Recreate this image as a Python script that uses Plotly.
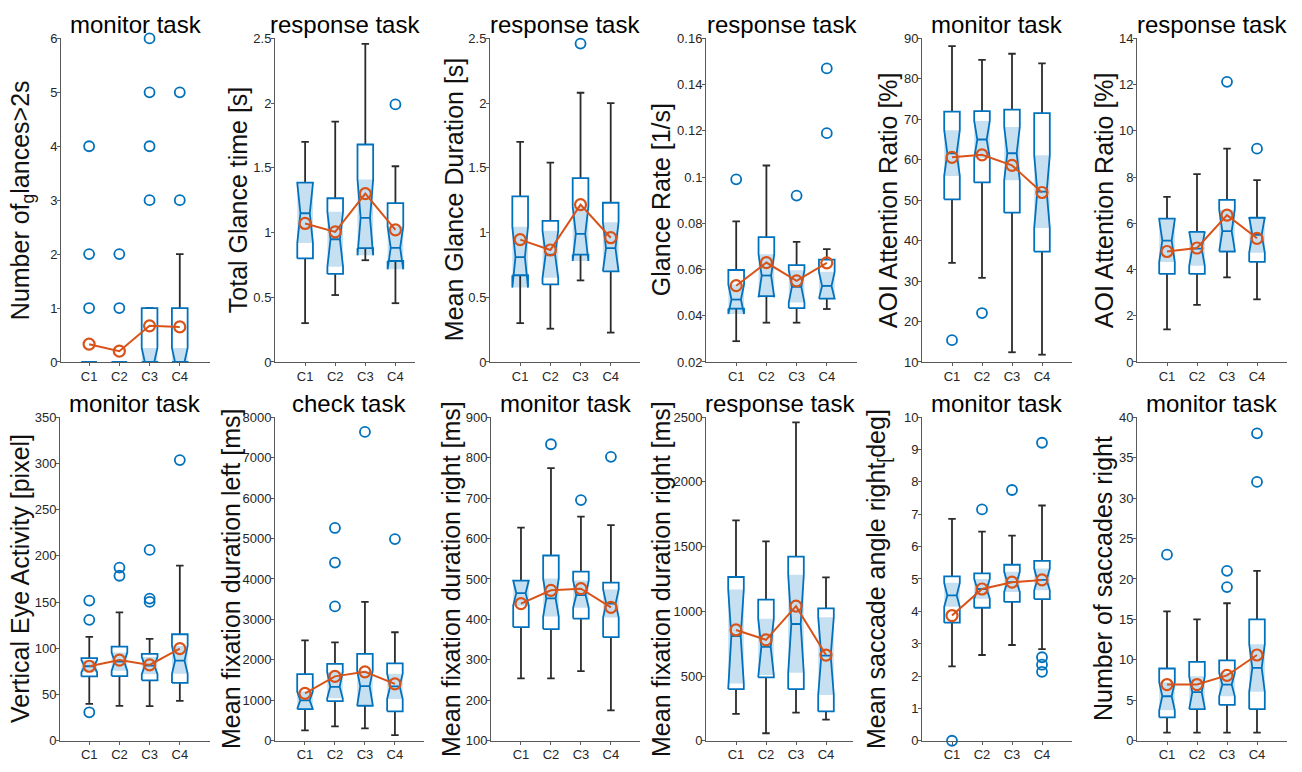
import plotly.graph_objects as go

# ---------------- data ----------------
categories = ["C1", "C2", "C3", "C4"]

titles = ["monitor task", "response task", "response task", "response task",
          "monitor task", "response task",
          "monitor task", "check task", "monitor task", "response task",
          "monitor task", "monitor task"]

ylabels = ["Number of<sub>g</sub>lances>2s", "Total Glance time [s]",
           "Mean Glance Duration [s]", "Glance Rate [1/s]",
           "AOI Attention Ratio [%]", "AOI Attention Ratio [%]",
           "Vertical Eye Activity [pixel]", "Mean fixation duration left [ms]",
           "Mean fixation duration right [ms]", "Mean fixation duration right [ms]",
           "Mean saccade angle right<sub>[</sub>deg]", "Number of saccades right"]

yranges = [[0, 6], [0, 2.5], [0, 2.5], [0.02, 0.16], [10, 90], [0, 14],
           [0, 350], [0, 8000], [100, 900], [0, 2500], [0, 10], [0, 40]]

yticks = [[0, 1, 2, 3, 4, 5, 6],
          [0, 0.5, 1, 1.5, 2, 2.5],
          [0, 0.5, 1, 1.5, 2, 2.5],
          [0.02, 0.04, 0.06, 0.08, 0.1, 0.12, 0.14, 0.16],
          [10, 20, 30, 40, 50, 60, 70, 80, 90],
          [0, 2, 4, 6, 8, 10, 12, 14],
          [0, 50, 100, 150, 200, 250, 300, 350],
          [0, 1000, 2000, 3000, 4000, 5000, 6000, 7000, 8000],
          [100, 200, 300, 400, 500, 600, 700, 800, 900],
          [0, 500, 1000, 1500, 2000, 2500],
          [0, 1, 2, 3, 4, 5, 6, 7, 8, 9, 10],
          [0, 5, 10, 15, 20, 25, 30, 35, 40]]

box_q1 = [[0, 0, 0, 0], [0.80, 0.68, 0.88, 0.78], [0.67, 0.60, 0.83, 0.70],
          [0.0431, 0.0485, 0.0433, 0.0474], [50.2, 54.4, 46.9, 37.3], [3.81, 3.81, 4.78, 4.33],
          [69.6, 70.0, 65.4, 62.6], [784, 978, 865, 727], [381, 376, 402, 356],
          [399, 490, 399, 227], [3.65, 4.11, 4.29, 4.38], [2.9, 3.92, 4.44, 3.92]]

box_median = [[0, 0, 0, 0], [1.149, 0.948, 1.114, 0.882], [0.81, 0.83, 0.99, 0.88],
              [0.047, 0.0574, 0.0525, 0.0529], [61.6, 65.0, 61.6, 52.1], [5.25, 4.90, 5.66, 5.50],
              [80.6, 85.5, 81.3, 86.6], [1000, 1333, 1349, 1345], [465, 452, 460, 439],
              [808, 725, 902, 657], [4.49, 4.69, 4.90, 4.97], [5.5, 6.0, 6.95, 9.0]]

box_q3 = [[0, 0, 1, 1], [1.386, 1.265, 1.68, 1.227], [1.28, 1.09, 1.42, 1.23],
          [0.0598, 0.074, 0.0619, 0.0643], [71.9, 72.0, 72.4, 71.5], [6.20, 5.63, 7.01, 6.24],
          [89.4, 101.8, 94.0, 115.2], [1648, 1899, 2150, 1915], [496, 558, 518, 491],
          [1265, 1091, 1422, 1023], [5.08, 5.17, 5.44, 5.56], [8.93, 9.74, 9.94, 15.0]]

notch_lo = [[0, 0, -0.26, -0.26], [0.92, 0.736, 0.824, 0.716], [0.575, 0.65, 0.78, 0.70],
            [0.0407, 0.048, 0.0457, 0.0474], [56.0, 60.4, 54.9, 43.1], [4.33, 4.16, 4.83, 4.73],
            [74.0, 75.6, 72.0, 72.5], [785, 1050, 889, 1034], [434, 407, 429, 405],
            [442, 508, 525, 354], [4.14, 4.39, 4.60, 4.65], [3.76, 4.04, 5.5, 6.06]]

notch_hi = [[0, 0, 0.26, 0.26], [1.38, 1.16, 1.41, 1.048], [1.045, 1.013, 1.20, 1.08],
            [0.0535, 0.0666, 0.0597, 0.059], [67.3, 69.6, 68.1, 61.1], [6.17, 5.64, 6.59, 6.27],
            [87.2, 95.4, 90.6, 102.5], [1215, 1697, 1730, 1657], [496, 501, 496, 474],
            [1169, 942, 1283, 955], [4.88, 5.00, 5.22, 5.32], [7.24, 7.96, 8.4, 11.94]]

whisker_lo = [[0, 0, 0, 0], [0.30, 0.517, 0.786, 0.454], [0.30, 0.257, 0.63, 0.227],
              [0.029, 0.037, 0.037, 0.0429], [34.5, 30.8, 12.4, 11.8], [1.41, 2.47, 3.66, 2.71],
              [40.0, 37.8, 37.5, 43.1], [259, 356, 307, 137], [254, 254, 272, 175],
              [207, 58, 217, 164], [2.30, 2.65, 2.96, 2.83], [1, 1, 1, 1]]

whisker_hi = [[0, 0, 1, 2], [1.70, 1.857, 2.457, 1.512], [1.70, 1.54, 2.08, 2.0],
              [0.0808, 0.105, 0.072, 0.0688], [88.1, 84.7, 86.2, 83.8], [7.14, 8.13, 9.23, 7.87],
              [112.4, 138.9, 110.3, 189.5], [2481, 2432, 3434, 2683], [627, 774, 654, 633],
              [1702, 1540, 2460, 1263], [6.86, 6.46, 6.34, 7.27], [16, 15, 17, 21]]

means = [[0.33, 0.20, 0.67, 0.65], [1.07, 1.005, 1.30, 1.02], [0.945, 0.865, 1.215, 0.96],
         [0.053, 0.063, 0.0551, 0.0629], [60.6, 61.2, 58.6, 51.9], [4.78, 4.93, 6.35, 5.35],
         [80.6, 87.3, 82.0, 99.7], [1172, 1592, 1705, 1406], [439, 472, 476, 430],
         [856, 780, 1040, 662], [3.87, 4.69, 4.90, 4.97], [6.95, 6.95, 8.08, 10.6]]

outliers = [[[1, 2, 4], [1, 2], [3, 4, 5, 6], [3, 5]],
            [[], [], [], [1.99]],
            [[], [], [2.46], []],
            [[0.099], [], [0.092], [0.119, 0.147]],
            [[15.4], [22.1], [], []],
            [[], [], [12.12], [9.23]],
            [[30.8, 130.8, 151.6], [178.5, 187.3], [150.2, 153.8, 206.4], [303.6]],
            [[], [3321, 4404, 5261], [7636], [4986]],
            [[], [833], [695], [802]],
            [[], [], [], []],
            [[0], [7.15], [7.75], [2.13, 2.35, 2.58, 9.21]],
            [[23], [], [19, 21], [32, 38]]]

# ---------------- layout geometry (pixels) ----------------
W, H = 1302, 772
axis_px = [(61, 210), (275, 415), (490, 640), (706, 857), (922, 1072), (1137, 1287),
           (60, 210), (275, 424), (491, 640), (706, 853), (922, 1072), (1137, 1287)]
xranges = [[0.07, 5.0], [0, 4.65], [0, 4.97], [0, 5.0], [0, 5], [0, 5],
           [0.03, 5.0], [0, 4.97], [0, 4.97], [0, 4.9], [0, 5], [0, 5]]
row_px = [(32, 362), (418.3, 748.3)]
ylabel_x = [22, 238, 454, 661, 888, 1104, 20, 231, 451, 661, 878, 1103]

BLUE = "#0072BD"
ORANGE = "#D95319"
FILL = "rgba(0,114,189,0.22)"
WHISK = "#2b2b2b"
AX = "#5a5a5a"
TXT = "#262626"
FONT = "Liberation Sans, Arial, sans-serif"

HW = 0.26      # box half width
NW = 0.6       # notch waist relative to half width
CAP = 0.125    # whisker cap half width

fig = go.Figure()
annotations = []

for p in range(12):
    ax = "" if p == 0 else str(p + 1)
    xref, yref = "x" + ax, "y" + ax
    xs_fill, ys_fill = [], []
    xs_w, ys_w = [], []
    xs_b, ys_b = [], []
    xs_o, ys_o = [], []
    for i in range(4):
        x = i + 1
        q1, md, q3 = box_q1[p][i], box_median[p][i], box_q3[p][i]
        nlo, nhi = notch_lo[p][i], notch_hi[p][i]
        wl, wh = whisker_lo[p][i], whisker_hi[p][i]
        # shaded notch band
        xs_fill += [x - HW, x + HW, x + HW, x - HW, x - HW, None]
        ys_fill += [nlo, nlo, nhi, nhi, nlo, None]
        # whiskers with caps
        xs_w += [x, x, None, x - CAP, x + CAP, None, x, x, None, x - CAP, x + CAP, None]
        ys_w += [q3, wh, None, wh, wh, None, q1, wl, None, wl, wl, None]
        # notched box outline and median
        xs_b += [x - HW, x + HW, x + HW, x + HW * NW, x + HW, x + HW,
                 x - HW, x - HW, x - HW * NW, x - HW, x - HW, None,
                 x - HW * NW, x + HW * NW, None]
        ys_b += [q1, q1, nlo, md, nhi, q3, q3, nhi, md, nlo, q1, None, md, md, None]
        for v in outliers[p][i]:
            xs_o.append(x)
            ys_o.append(v)

    fig.add_trace(go.Scatter(x=xs_fill, y=ys_fill, mode="none", fill="toself",
                             fillcolor=FILL, xaxis=xref, yaxis=yref,
                             hoverinfo="skip", showlegend=False))
    fig.add_trace(go.Scatter(x=xs_w, y=ys_w, mode="lines",
                             line=dict(color=WHISK, width=1.8),
                             xaxis=xref, yaxis=yref, hoverinfo="skip", showlegend=False))
    fig.add_trace(go.Scatter(x=xs_b, y=ys_b, mode="lines",
                             line=dict(color=BLUE, width=1.8),
                             xaxis=xref, yaxis=yref, hoverinfo="skip", showlegend=False))
    fig.add_trace(go.Scatter(x=xs_o, y=ys_o, mode="markers", cliponaxis=False,
                             marker=dict(symbol="circle-open", size=10, color=BLUE,
                                         line=dict(width=1.8, color=BLUE)),
                             xaxis=xref, yaxis=yref, showlegend=False))
    fig.add_trace(go.Scatter(x=[1, 2, 3, 4], y=means[p], mode="lines+markers",
                             cliponaxis=False,
                             line=dict(color=ORANGE, width=2),
                             marker=dict(symbol="circle-open", size=11, color=ORANGE,
                                         line=dict(width=2.2, color=ORANGE)),
                             xaxis=xref, yaxis=yref, showlegend=False))

    row = 0 if p < 6 else 1
    l, r = axis_px[p]
    t, b = row_px[row]
    fig.layout["xaxis" + ax] = dict(
        domain=[l / W, r / W], range=xranges[p], anchor=yref,
        tickmode="array", tickvals=[1, 2, 3, 4], ticktext=categories,
        showline=True, linecolor=AX, linewidth=1, ticks="outside", ticklen=3,
        tickcolor=AX, showgrid=False, zeroline=False, ticklabelstandoff=-1,
        tickfont=dict(family=FONT, size=13, color=TXT))
    fig.layout["yaxis" + ax] = dict(
        domain=[1 - b / H, 1 - t / H], range=yranges[p], anchor=xref,
        tickmode="array", tickvals=yticks[p], ticktext=[f"{v:g}" for v in yticks[p]],
        showline=True, linecolor=AX, linewidth=1, ticks="outside", ticklen=3,
        tickcolor=AX, showgrid=False, zeroline=False, ticklabelstandoff=-3,
        tickfont=dict(family=FONT, size=13, color=TXT))

    annotations.append(dict(text=titles[p], xref="paper", yref="paper",
                            x=(l + r) / 2 / W, y=1 - (t - 14) / H,
                            xanchor="center", yanchor="middle", showarrow=False,
                            font=dict(family=FONT, size=24, color="#000000")))
    annotations.append(dict(text=ylabels[p], xref="paper", yref="paper",
                            x=ylabel_x[p] / W, y=1 - (t + b) / 2 / H, textangle=-90,
                            xanchor="center", yanchor="middle", showarrow=False,
                            font=dict(family=FONT, size=25, color="#111111")))

fig.update_layout(width=W, height=H, margin=dict(l=0, r=0, t=0, b=0),
                  paper_bgcolor="white", plot_bgcolor="white",
                  annotations=annotations, showlegend=False)

fig.write_html("out.html")
